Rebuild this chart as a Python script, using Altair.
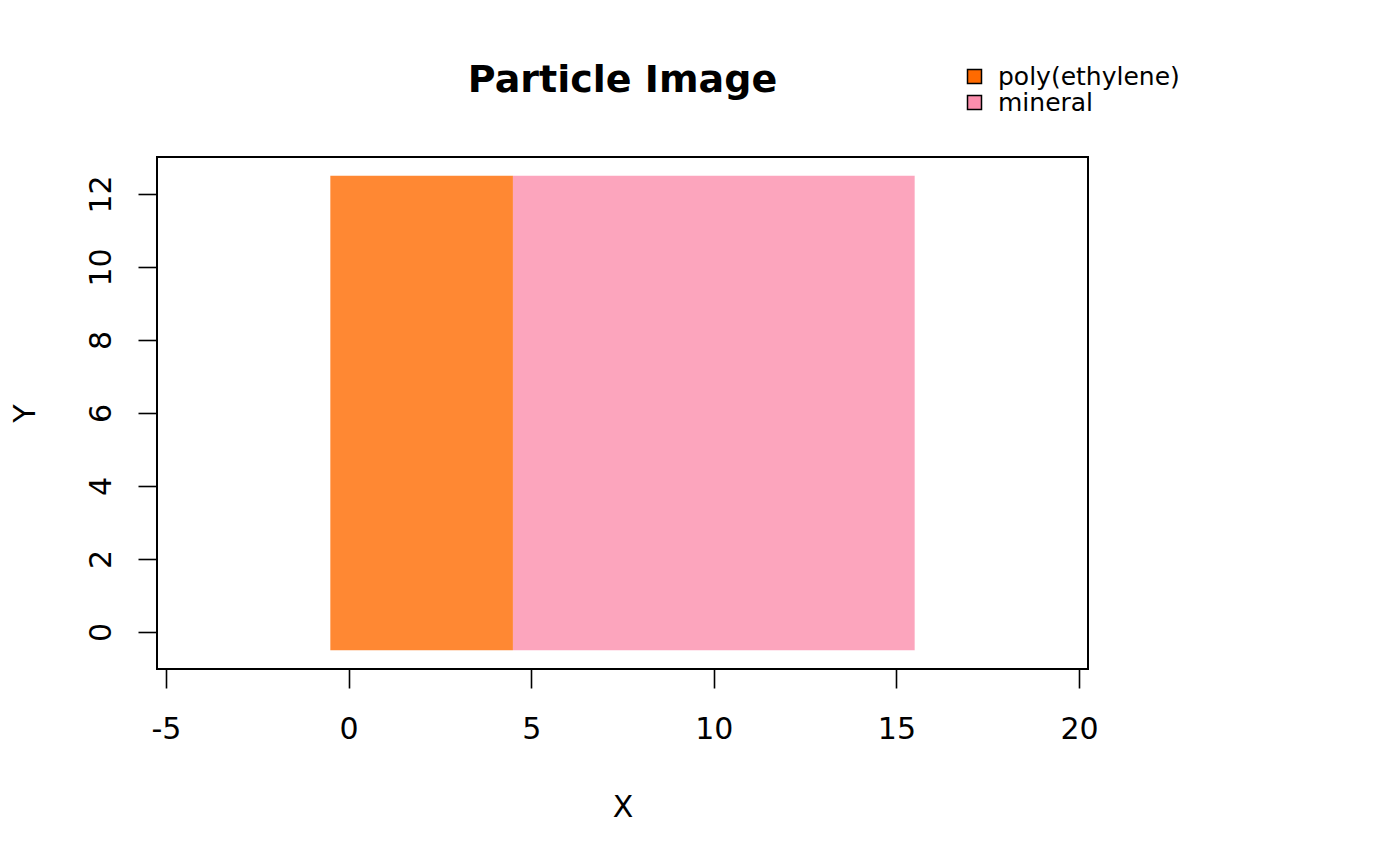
import altair as alt
import pandas as pd

# Particle image: grid of cells, material per column
x_cells = list(range(0, 16))
y_cells = list(range(0, 13))
col_material = ["poly(ethylene)"] * 5 + ["mineral"] * 11
materials = ["poly(ethylene)", "mineral"]
material_colors = ["#FF6A00", "#FB8EAD"]

x_ticks = [-5, 0, 5, 10, 15, 20]
y_ticks = [0, 2, 4, 6, 8, 10, 12]

rows = []
for xi, m in zip(x_cells, col_material):
    for yi in y_cells:
        rows.append({"x": xi, "y": yi, "material": m})
cells = pd.DataFrame(rows)

FONT = "DejaVu Sans"

base = alt.Chart(cells).transform_aggregate(
    xmin="min(x)", xmax="max(x)", ymin="min(y)", ymax="max(y)", groupby=["material"]
).transform_calculate(
    x0="datum.xmin - 0.5", x1="datum.xmax + 0.5",
    y0="datum.ymin - 0.5", y1="datum.ymax + 0.5",
)

chart = base.mark_rect(opacity=0.8, strokeWidth=0).encode(
    x=alt.X("x0:Q", scale=alt.Scale(domain=[-5.246, 20.246], nice=False, zero=False),
            axis=alt.Axis(values=x_ticks, title="X", grid=False, domain=False,
                          labelExpr="'' + datum.value",
                          tickSize=19, tickWidth=1.6, tickColor="black",
                          labelFontSize=30, labelFont=FONT, labelColor="black",
                          labelPadding=26, labelFlush=False,
                          titleFontSize=30, titleFont=FONT, titleFontWeight="normal",
                          titleColor="black", titleBaseline="alphabetic",
                          titleX=465.5, titleY=147, titleAlign="center")),
    x2="x1:Q",
    y=alt.Y("y0:Q", scale=alt.Scale(domain=[-1.014, 13.014], nice=False, zero=False),
            axis=alt.Axis(values=y_ticks, title="Y", grid=False, domain=False,
                          labelExpr="'' + datum.value",
                          tickSize=19, tickWidth=1.6, tickColor="black",
                          labelFontSize=30, labelFont=FONT, labelColor="black",
                          labelAngle=270, labelAlign="center", labelBaseline="alphabetic",
                          labelPadding=28, labelFlush=False,
                          titleFontSize=30, titleFont=FONT, titleFontWeight="normal",
                          titleColor="black", titleBaseline="alphabetic",
                          titleX=-123, titleY=256, titleAngle=270, titleAlign="center")),
    y2="y1:Q",
    color=alt.Color("material:N",
                    scale=alt.Scale(domain=materials, range=material_colors),
                    legend=alt.Legend(title=None, orient="none", legendX=805, legendY=-93,
                                      symbolType="square", symbolSize=196,
                                      symbolStrokeColor="black", symbolStrokeWidth=1.5,
                                      symbolOpacity=1, labelFontSize=25, labelFont=FONT,
                                      labelColor="black", labelOffset=11, rowPadding=0,
                                      labelLimit=400, padding=0)),
).properties(
    width=931, height=512,
    title=alt.TitleParams("Particle Image", fontSize=38, font=FONT, fontWeight="bold",
                          color="black", anchor="middle", frame="group",
                          baseline="alphabetic", offset=0, dy=66),
    autosize=alt.AutoSizeParams(type="none"),
    padding={"left": 149, "top": 149, "right": 300, "bottom": 180},
).configure_view(stroke="black", strokeWidth=2)

chart.save("out.html", embed_options={"renderer": "svg", "actions": False})
